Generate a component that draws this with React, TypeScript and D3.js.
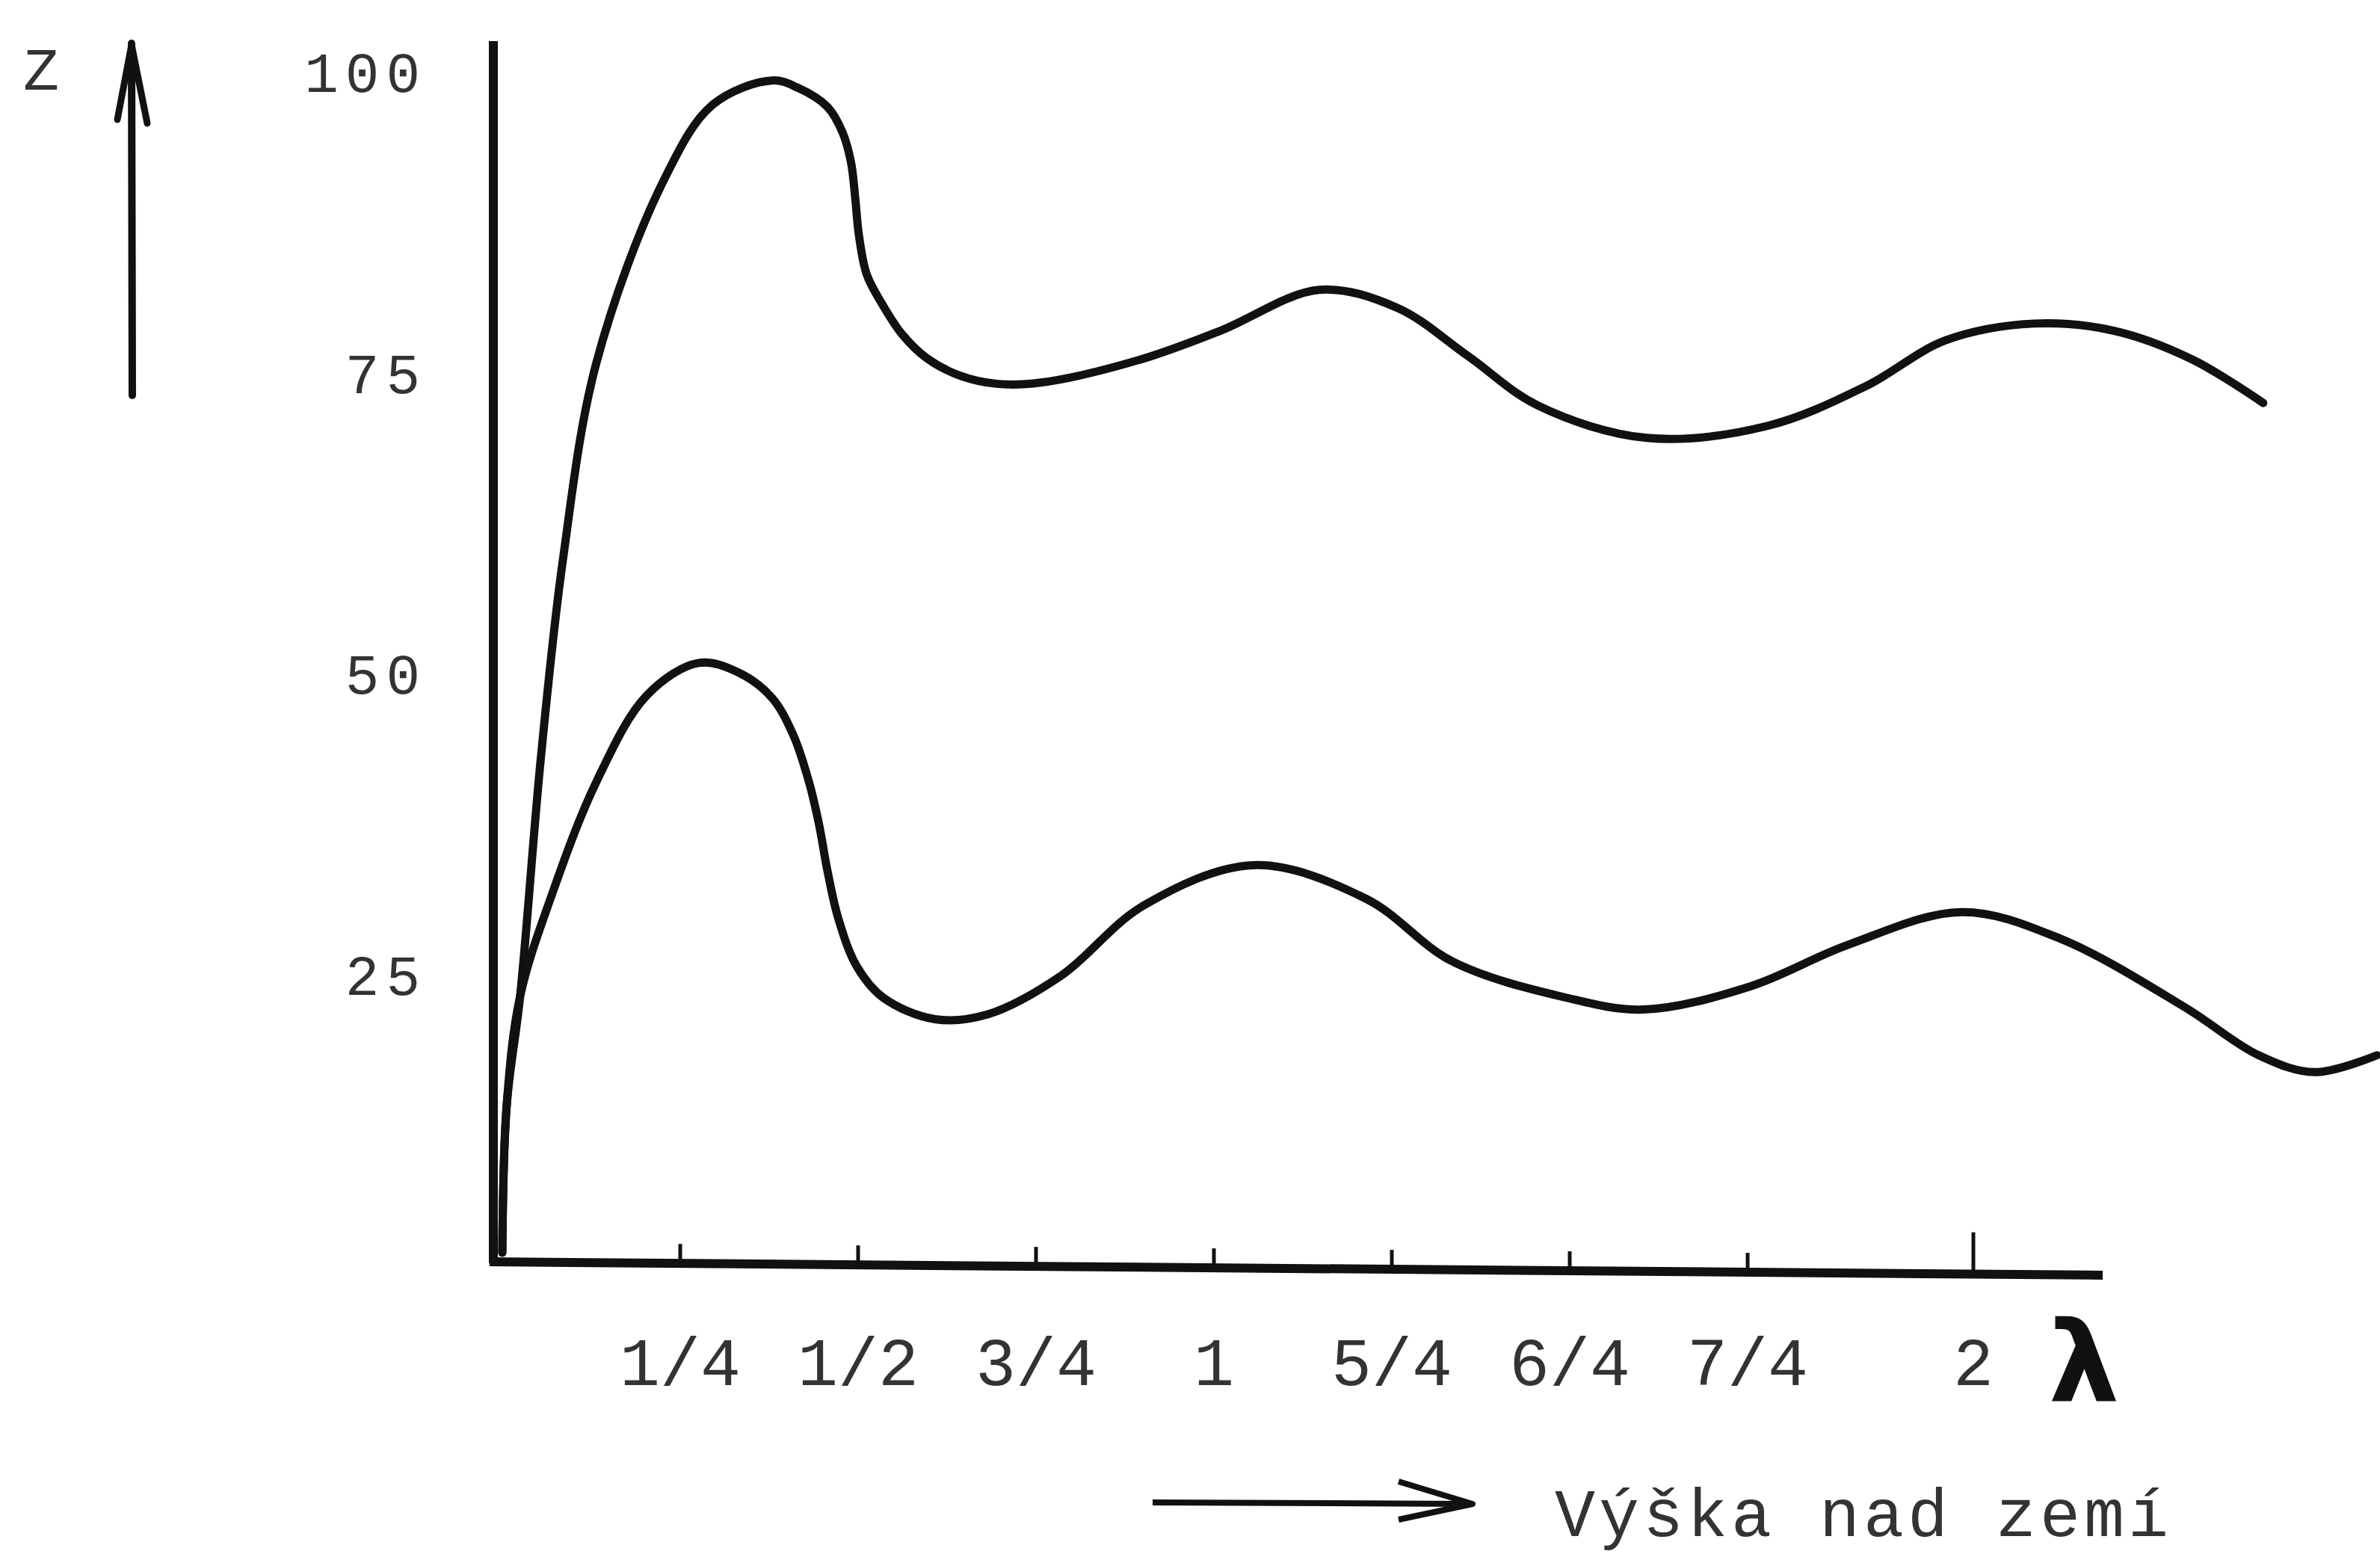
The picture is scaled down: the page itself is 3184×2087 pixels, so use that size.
import { useMemo } from "react";
import * as d3 from "d3";

const W = 3184;
const H = 2087;

// osa x: zlomky vlnové délky
const lambdaTicks = [0.25, 0.5, 0.75, 1, 1.25, 1.5, 1.75, 2];
const lambdaLabels = ["1/4", "1/2", "3/4", "1", "5/4", "6/4", "7/4", "2"];
// osa y
const zTicks = [100, 75, 50, 25];

// horní křivka
const upperLambda = [
  0, 0.006, 0.025, 0.054, 0.085, 0.132, 0.226, 0.296, 0.379, 0.415, 0.457, 0.478,
  0.49, 0.496, 0.501, 0.512, 0.534, 0.562, 0.597, 0.642, 0.694, 0.757, 0.896,
  1.009, 1.148, 1.258, 1.357, 1.455, 1.608, 1.772, 1.881, 1.969, 2.067, 2.156,
  2.243, 2.321,
];
const upperZ = [
  2, 14.1, 23.3, 43, 59.5, 75.9, 91, 97.4, 99.4, 98.8, 97.2, 95.1, 92.6, 89.6,
  86.6, 83.3, 80.8, 78.3, 76.3, 74.9, 74.2, 74.3, 76.2, 78.6, 82, 80.5, 76.5,
  72.4, 69.7, 70.7, 74, 77.8, 79.2, 78.6, 76.2, 72.6,
];

// dolní křivka
const lowerLambda = [
  0, 0.006, 0.025, 0.07, 0.132, 0.203, 0.276, 0.332, 0.379, 0.409, 0.431, 0.445,
  0.457, 0.472, 0.498, 0.535, 0.608, 0.682, 0.785, 0.9, 1.056, 1.214, 1.335,
  1.494, 1.604, 1.752, 1.862, 1.987, 2.096, 2.234, 2.316, 2.378, 2.447,
];
const lowerZ = [
  2, 14.1, 23.3, 31.8, 41.1, 48.3, 51, 50.2, 48.1, 45, 41.1, 37.6, 33.7, 29.8,
  25.8, 23.2, 21.4, 21.8, 25, 30.8, 34.2, 31.4, 26.2, 23.2, 22.2, 24.1, 27.6,
  30.3, 28.1, 22.4, 18.4, 17, 18.4,
];

const MONO = "'Liberation Mono', 'DejaVu Sans Mono', monospace";

const App = () => {
  // ručně kreslená osa: poslední čtvrtina je delší
  const x = useMemo(
    () => d3.scaleLinear().domain([0, 1.75, 2]).range([672, 2338, 2640]),
    []
  );
  const y = useMemo(() => d3.scaleLinear().domain([0, 100]).range([1708, 98]), []);

  const line = d3
    .line<[number, number]>()
    .x((d) => x(d[0]))
    .y((d) => y(d[1]))
    .curve(d3.curveCatmullRom.alpha(0.5));

  const upper = line(upperLambda.map((l, i) => [l, upperZ[i]] as [number, number]));
  const lower = line(lowerLambda.map((l, i) => [l, lowerZ[i]] as [number, number]));

  return (
    <svg
      width={W}
      height={H}
      style={{ position: "absolute", left: 0, top: 0, background: "#fff" }}
    >
      <rect width={W} height={H} fill="#fff" />

      {/* šipka Z */}
      <text x={55} y={120} fontFamily={MONO} fontSize={80} textAnchor="middle" fill="#333">
        Z
      </text>
      <line x1={176} y1={58} x2={177} y2={529} stroke="#111" strokeWidth={10} strokeLinecap="round" />
      <path d="M157,160 L176,60 L197,165" fill="none" stroke="#111" strokeWidth={9} strokeLinecap="round" strokeLinejoin="round" />

      {/* osy */}
      <line x1={660} y1={55} x2={660} y2={1690} stroke="#111" strokeWidth={12} />
      <line x1={655} y1={1688} x2={2813} y2={1706} stroke="#111" strokeWidth={12} />

      {/* popisky osy y */}
      {zTicks.map((v) => (
        <text
          key={v}
          x={571}
          y={y(v) + 25}
          fontFamily={MONO}
          fontSize={76}
          letterSpacing={9}
          textAnchor="end"
          fill="#333"
        >
          {v}
        </text>
      ))}

      {/* značky a popisky osy x */}
      {lambdaTicks.map((t, i) => {
        const tx = x(t);
        const base = 1688 + ((tx - 655) / (2813 - 655)) * 18;
        const len = t === 2 ? 56 : 26;
        return (
          <g key={t}>
            <line x1={tx} y1={base} x2={tx} y2={base - len} stroke="#111" strokeWidth={5} />
            <text
              x={tx}
              y={1853}
              fontFamily={MONO}
              fontSize={90}
              textAnchor="middle"
              fill="#333"
            >
              {lambdaLabels[i]}
            </text>
          </g>
        );
      })}
      <text
        x={2788}
        y={1875}
        fontFamily="'DejaVu Sans', sans-serif"
        fontSize={150}
        fontWeight="bold"
        textAnchor="middle"
        fill="#111"
      >
        λ
      </text>

      {/* křivky */}
      <path d={upper ?? ""} fill="none" stroke="#111" strokeWidth={11} strokeLinejoin="round" strokeLinecap="round" />
      <path d={lower ?? ""} fill="none" stroke="#111" strokeWidth={11} strokeLinejoin="round" strokeLinecap="round" />

      {/* šipka výšky */}
      <line x1={1542} y1={2010} x2={1968} y2={2012} stroke="#111" strokeWidth={8} />
      <path d="M1871,1982 L1970,2012 L1871,2033" fill="none" stroke="#111" strokeWidth={8} strokeLinejoin="round" />
      <text x={2080} y={2055} fontFamily={MONO} fontSize={90} letterSpacing={5} fill="#333">
        Výška nad zemí
      </text>
    </svg>
  );
};

export default App;
